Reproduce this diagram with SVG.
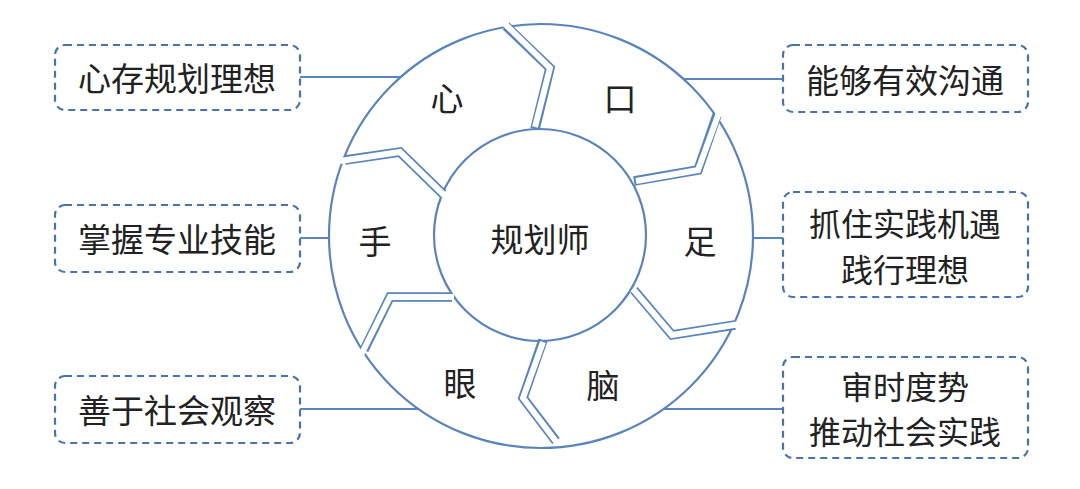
<svg xmlns="http://www.w3.org/2000/svg" width="1080" height="489" viewBox="0 0 1080 489">
<style>
.box{fill:#fff;stroke:#4a74a8;stroke-width:2.2;stroke-dasharray:7,5}
.ln{stroke:#5a84bb;stroke-width:2;fill:none}
.t{font-family:"Noto Sans CJK SC",sans-serif;font-size:29px;fill:#222;text-anchor:middle;dominant-baseline:central}
.b{font-size:33px}
.c{font-size:32px}
.dv1{stroke:#5a84bb;stroke-width:9.5;fill:none;stroke-linejoin:miter}
.dv2{stroke:#fff;stroke-width:6;fill:none;stroke-linejoin:miter}
</style>
<rect width="1080" height="489" fill="#fff"/>
<g id="connectors">
<line class="ln" x1="300" y1="77" x2="401" y2="77"/>
<line class="ln" x1="300" y1="238" x2="329" y2="238"/>
<line class="ln" x1="300" y1="409" x2="419" y2="409"/>
<line class="ln" x1="681" y1="79" x2="783" y2="79"/>
<line class="ln" x1="753" y1="238" x2="783" y2="238"/>
<line class="ln" x1="663" y1="409" x2="783" y2="409"/>
</g>
<g id="ring">
<circle cx="541" cy="236" r="212" fill="#fff" stroke="#5a84bb" stroke-width="2.2"/>
<circle cx="540" cy="235" r="106" fill="#fff" stroke="#5a84bb" stroke-width="2.2"/>
<g id="dividers">
<polyline class="dv1" points="535,129 550,68 506,26"/>
<polyline class="dv1" points="634,181 698,170 717,115"/>
<polyline class="dv1" points="634,290 672,335 735,325"/>
<polyline class="dv1" points="543,340 523,398 556,441"/>
<polyline class="dv1" points="452,297 390,297 364,350"/>
<polyline class="dv1" points="443,194 400,152 345,160"/>
<polyline class="dv2" points="535,127 550,68 503,22"/>
<polyline class="dv2" points="636,181 698,170 720,110"/>
<polyline class="dv2" points="633,289 672,335 740,324"/>
<polyline class="dv2" points="543,342 523,398 558,444"/>
<polyline class="dv2" points="454,297 390,297 361,355"/>
<polyline class="dv2" points="444,195 400,152 340,161"/>
</g>
</g>
<g id="center"><text class="t b" x="540" y="238">规划师</text></g>
<g id="seg-xin"><text class="t b" x="447" y="97">心</text></g>
<g id="seg-kou"><text class="t b" x="620" y="97">口</text></g>
<g id="seg-zu"><text class="t b" x="700" y="240">足</text></g>
<g id="seg-nao"><text class="t b" x="603" y="384">脑</text></g>
<g id="seg-yan"><text class="t b" x="460" y="382">眼</text></g>
<g id="seg-shou"><text class="t b" x="375" y="240">手</text></g>
<g id="box1"><rect class="box" x="55" y="45" width="245" height="65" rx="10"/><text class="t b" x="177" y="77">心存规划理想</text></g>
<g id="box2"><rect class="box" x="55" y="205" width="245" height="67" rx="10"/><text class="t b" x="177" y="238">掌握专业技能</text></g>
<g id="box3"><rect class="box" x="55" y="376" width="245" height="67" rx="10"/><text class="t b" x="177" y="409">善于社会观察</text></g>
<g id="box4"><rect class="box" x="783" y="45" width="245" height="67" rx="10"/><text class="t b" x="905" y="79">能够有效沟通</text></g>
<g id="box5"><rect class="box" x="783" y="192" width="245" height="105" rx="10"/><text class="t c" x="905" y="222">抓住实践机遇</text><text class="t c" x="905" y="268">践行理想</text></g>
<g id="box6"><rect class="box" x="783" y="357" width="245" height="101" rx="10"/><text class="t c" x="905" y="385">审时度势</text><text class="t c" x="905" y="430">推动社会实践</text></g>
</svg>
